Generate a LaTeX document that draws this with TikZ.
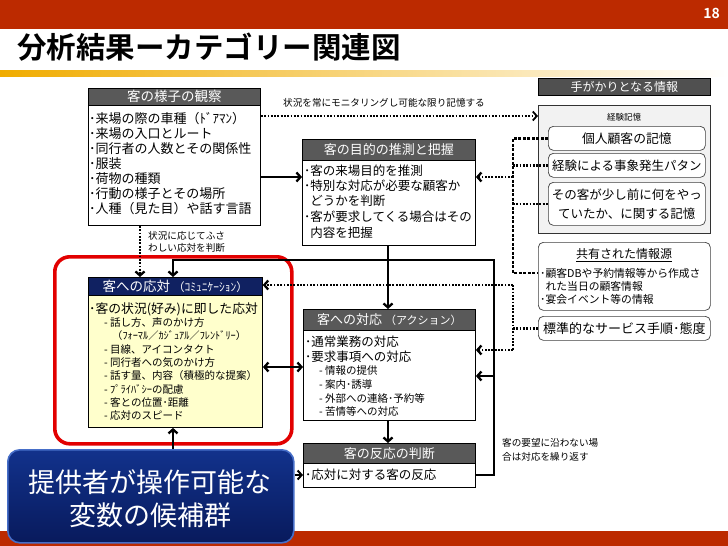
\documentclass[tikz,border=0pt]{standalone}
\usepackage{fontspec}
\setmainfont{Noto Sans CJK JP}[BoldFont={Noto Sans CJK JP Bold}]
\usetikzlibrary{arrows.meta}
\definecolor{barc}{RGB}{188,42,0}
\definecolor{hgray}{RGB}{89,89,89}
\definecolor{navyc}{RGB}{16,33,97}
\definecolor{lyellow}{RGB}{255,255,204}
\definecolor{framered}{RGB}{226,0,0}
\definecolor{memgray}{RGB}{242,242,242}
\definecolor{gold}{RGB}{240,172,0}
\definecolor{calltop}{RGB}{18,50,140}
\definecolor{callbot}{RGB}{8,26,92}
\definecolor{callrim}{RGB}{70,110,200}
\begin{document}
\begin{tikzpicture}[x=1pt,y=-1pt,
  hdr/.style={draw=black,line width=0.7pt,fill=hgray,text=white,inner sep=0pt,anchor=north west,font=\fontsize{13}{15}\selectfont},
  bodyb/.style={draw=black,line width=0.9pt,fill=white,inner sep=0pt,anchor=north west},
  txt/.style={anchor=west,inner sep=0pt,text=black,font=\fontsize{12.5}{15}\selectfont},
  bigt/.style={txt,font=\fontsize{13}{15}\selectfont},
  subt/.style={txt,font=\fontsize{10.5}{13}\selectfont},
  smallt/.style={txt,font=\fontsize{9.6}{12}\selectfont},
  rbox/.style={draw=black!75,line width=0.7pt,fill=white,rounded corners=5pt,inner sep=0pt,anchor=north west},
  ln/.style={line width=2.3pt},
  arr/.style={line width=2.3pt,-{Straight Barb[length=4pt,width=9pt]}},
  dbl/.style={line width=2.3pt,{Straight Barb[length=4pt,width=9pt]}-{Straight Barb[length=4pt,width=9pt]}},
  dots/.style={line width=2.3pt,dash pattern=on 1.8pt off 1.5pt},
  dashb/.style={line width=2.5pt,dash pattern=on 3pt off 1.5pt},
  darr/.style={dots,-{Straight Barb[length=4pt,width=9pt]}},
]
\useasboundingbox (0,0) rectangle (728,546);
\fill[white] (0,0) rectangle (728,546);

% top and bottom bars
\fill[barc] (0,0) rectangle (728,29);
\node[anchor=east,inner sep=0pt,text=white,font=\bfseries\fontsize{14}{16}\selectfont] (pnum) at (720,13) {18};
\node[anchor=west,inner sep=0pt,font=\bfseries\fontsize{29.5}{34}\selectfont] (title) at (17,47) {分析結果ーカテゴリー関連図};
\shade[left color=gold,right color=white] (0,70) rectangle (728,76);
\fill[barc] (0,531) rectangle (728,546);

% coordinates of levels
\coordinate (yA) at (0,177);
\coordinate (yMon) at (0,116);
\coordinate (yLoop) at (0,260);
\coordinate (yStd) at (0,285);
\coordinate (yAct1) at (0,350);
\coordinate (yAct2) at (0,376);
\coordinate (yDbl) at (0,367);
\coordinate (yRe) at (0,475);
\coordinate (yShared) at (0,273);
\coordinate (xBus) at (513,0);
\coordinate (xLoop) at (494,0);
\coordinate (xCom) at (173,0);
\coordinate (xObs) at (140,0);
\coordinate (xMid) at (388,0);

% ---------- observation box
\node[hdr,minimum width=172pt,minimum height=17pt,font=\fontsize{13.5}{15}\selectfont] (obsH) at (88,88) {客の様子の観察};
\node[bodyb,minimum width=172pt,minimum height=120pt] (obsB) at (88,105) {};
\node[bigt] (o1) at (89,119) {･来場の際の車種（ﾄﾞｱﾏﾝ）};
\node[bigt] (o2) at (89,134) {･来場の入口とルート};
\node[bigt] (o3) at (89,149) {･同行者の人数とその関係性};
\node[bigt] (o4) at (89,164) {･服装};
\node[bigt] (o5) at (89,179) {･荷物の種類};
\node[bigt] (o6) at (89,194) {･行動の様子とその場所};
\node[bigt] (o7) at (89,209) {･人種（見た目）や話す言語};

% ---------- purpose box
\node[hdr,minimum width=173pt,minimum height=21pt] (purH) at (302,139) {客の目的の推測と把握};
\node[bodyb,minimum width=173pt,minimum height=85pt] (purB) at (302,160) {};
\node[txt] (p1) at (304,171) {･客の来場目的を推測};
\node[txt] (p2) at (304,186) {･特別な対応が必要な顧客か};
\node[txt] (p3) at (304,201) {\hphantom{･}どうかを判断};
\node[txt] (p4) at (304,217) {･客が要求してくる場合はその};
\node[txt] (p5) at (304,233) {\hphantom{･}内容を把握};

% ---------- communication box
\node[draw=framered,line width=3.6pt,rounded corners=15pt,minimum width=237pt,minimum height=187pt,anchor=north west,inner sep=0pt] (redf) at (53,255) {};
\node[hdr,fill=navyc,minimum width=174pt,minimum height=18pt,font=\fontsize{13.5}{15}\selectfont] (comH) at (88,277) {客への応対 {\fontsize{11.5}{12}\selectfont （ｺﾐｭﾆｹｰｼｮﾝ）}};
\node[bodyb,fill=lyellow,minimum width=174pt,minimum height=132pt] (comB) at (88,295) {};
\node[txt,font=\fontsize{12.8}{15}\selectfont] (c1) at (89,309) {･客の状況(好み)に即した応対};
\node[subt] (c2) at (104,323) {- 話し方、声のかけ方};
\node[subt,font=\fontsize{10.3}{11}\selectfont] (c3) at (112,336) {（ﾌｫｰﾏﾙ／ｶｼﾞｭｱﾙ／ﾌﾚﾝﾄﾞﾘｰ）};
\node[subt] (c4) at (104,350) {- 目線、アイコンタクト};
\node[subt] (c5) at (104,363) {- 同行者への気のかけ方};
\node[subt] (c6) at (104,376) {- 話す量、内容（積極的な提案）};
\node[subt] (c7) at (104,389) {- ﾌﾟﾗｲﾊﾞｼｰの配慮};
\node[subt] (c8) at (104,403) {- 客との位置･距離};
\node[subt] (c9) at (104,416) {- 応対のスピード};

% ---------- action box
\node[hdr,minimum width=172pt,minimum height=21pt] (actH) at (303,309) {客への対応 {\fontsize{11}{12}\selectfont （アクション）}};
\node[bodyb,minimum width=172pt,minimum height=90pt] (actB) at (303,330) {};
\node[txt] (a1) at (305,342) {･通常業務の対応};
\node[txt] (a2) at (305,357) {･要求事項への対応};
\node[subt] (a3) at (319,371) {- 情報の提供};
\node[subt] (a4) at (319,385) {- 案内･誘導};
\node[subt] (a5) at (319,398) {- 外部への連絡･予約等};
\node[subt] (a6) at (319,411) {- 苦情等への対応};

% ---------- reaction box
\node[hdr,minimum width=172pt,minimum height=20pt] (reH) at (303,443) {客の反応の判断};
\node[bodyb,minimum width=172pt,minimum height=24pt] (reB) at (303,463) {};
\node[txt] (r1) at (305,475) {･応対に対する客の反応};

% ---------- right column
\node[hdr,fill=hgray!90!black,minimum width=172pt,minimum height=17pt,font=\fontsize{12}{14}\selectfont] (cueH) at (538,78) {手がかりとなる情報};
\node[bodyb,fill=memgray,draw=black!80,minimum width=172pt,minimum height=128pt] (expB) at (538,105) {};
\node[anchor=center,inner sep=0pt,font=\fontsize{8.5}{10}\selectfont] (expL) at (624,117) {経験記憶};
\node[rbox,minimum width=157pt,minimum height=24pt,font=\fontsize{12.8}{15}\selectfont] (mem1) at (548,126) {個人顧客の記憶};
\node[rbox,minimum width=157pt,minimum height=24pt,font=\fontsize{12.5}{15}\selectfont] (mem2) at (548,153) {経験による事象発生パタン};
\node[rbox,minimum width=157pt,minimum height=43pt,align=center,font=\fontsize{12.5}{19}\selectfont] (mem3) at (548,182) {その客が少し前に何をやっ\\ていたか、に関する記憶};
\node[rbox,minimum width=172pt,minimum height=68pt] (shB) at (538,242) {};
\node[anchor=center,inner sep=0pt,font=\fontsize{12}{14}\selectfont] (shT) at (624,255) {\underline{共有された情報源}};
\node[txt,font=\fontsize{10.8}{13}\selectfont] (s1) at (540,273) {･顧客DBや予約情報等から作成さ};
\node[txt,font=\fontsize{10.8}{13}\selectfont] (s2) at (540,286) {\hphantom{･}れた当日の顧客情報};
\node[txt,font=\fontsize{10.8}{13}\selectfont] (s3) at (540,299) {･宴会イベント等の情報};
\node[rbox,minimum width=172pt,minimum height=24pt,font=\fontsize{13}{15}\selectfont] (stdB) at (538,316) {標準的なサービス手順･態度};

% ---------- labels
\node[smallt] (lblMon) at (283,103) {状況を常にモニタリングし可能な限り記憶する};
\node[smallt] (lblO1) at (148,236) {状況に応じてふさ};
\node[smallt] (lblO2) at (148,248) {わしい応対を判断};
\node[smallt] (lblR1) at (502,443) {客の要望に沿わない場};
\node[smallt] (lblR2) at (502,457) {合は対応を繰り返す};

% ---------- callout
\node[draw=callrim,line width=1.6pt,top color=calltop,bottom color=callbot,rounded corners=12pt,minimum width=286pt,minimum height=93pt,anchor=north west,inner sep=0pt] (call) at (7,449) {};
\node[inner sep=0pt,text=white,font=\fontsize{27}{32}\selectfont] (cl1) at (150,482) {提供者が操作可能な};
\node[inner sep=0pt,text=white,font=\fontsize{27}{32}\selectfont] (cl2) at (150,515) {変数の候補群};

% ---------- connectors
\draw[arr] (obsB.east |- yA) -- (purB.west |- yA);
\draw[darr,line width=1.8pt] (obsB.east |- yMon) -- (expB.west |- yMon);
\draw[darr] (obsB.south -| xObs) -- (comH.north -| xObs);
\draw[arr] (purB.south -| xMid) -- (actH.north -| xMid);
\draw[arr] (reB.east |- yRe) -| (xLoop |- yLoop) -| (comH.north -| xCom);
\draw[arr] (xLoop |- yAct2) -- (actB.east |- yAct2);
\draw[dbl] (comB.east |- yDbl) -- (actB.west |- yDbl);
\draw[arr] (actB.south -| xMid) -- (reH.north -| xMid);
\draw[arr] (call.north -| xCom) -- (comB.south -| xCom);
\draw[arr,line width=2pt] (call.east |- yRe) -- (reB.west |- yRe);

% upper bus
\draw[dashb] (mem1.west) -| (xBus |- yShared) -- (shB.west |- yShared);
\draw[dots] (xBus |- mem2.west) -- (mem2.west);
\draw[dots] (xBus |- mem3.west) -- (mem3.west);
\draw[darr] (xBus |- yA) -- (purB.east |- yA);
% lower bus
\draw[dots] (xBus |- yStd) -- (xBus |- yAct1);
\draw[dots] (xBus |- stdB.west) -- (stdB.west);
\draw[darr] (xBus |- yStd) -- (comH.east |- yStd);
\draw[darr] (xBus |- yAct1) -- (actB.east |- yAct1);
\end{tikzpicture}
\end{document}
